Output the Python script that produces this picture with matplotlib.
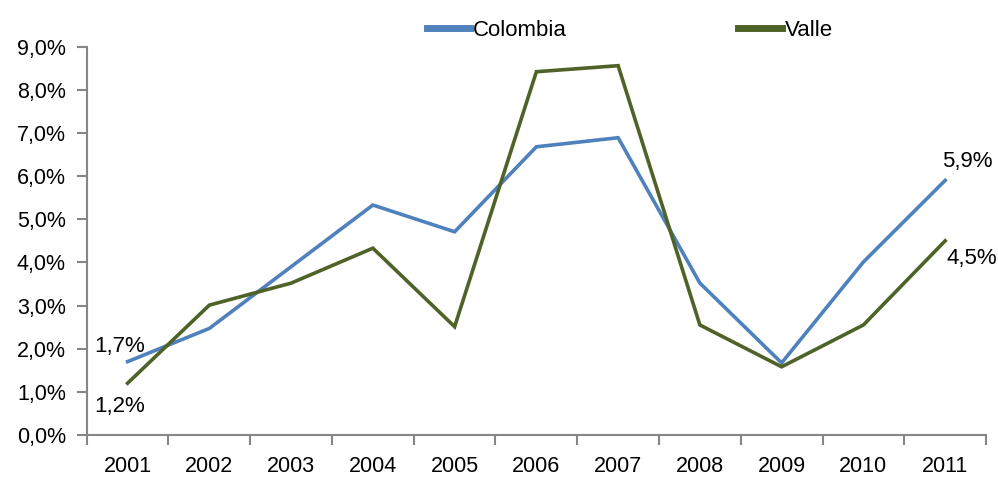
import matplotlib
matplotlib.use("Agg")
import matplotlib.pyplot as plt
from matplotlib.ticker import FuncFormatter, FixedLocator

years = ["2001", "2002", "2003", "2004", "2005", "2006", "2007", "2008", "2009", "2010", "2011"]
colombia = [1.7, 2.47, 3.9, 5.33, 4.71, 6.68, 6.89, 3.52, 1.67, 4.01, 5.9]
valle = [1.2, 3.01, 3.52, 4.33, 2.51, 8.42, 8.56, 2.55, 1.58, 2.55, 4.5]
yticks = [0, 1, 2, 3, 4, 5, 6, 7, 8, 9]

plt.rcParams['font.family'] = ['Liberation Sans', 'DejaVu Sans']

fig = plt.figure(figsize=(9.98, 4.79), dpi=100)
ax = fig.add_axes([0.0869, 0.0919, 0.9011, 0.8106])

x = list(range(len(years)))
blue = "#4F81BD"
green = "#4F6228"
ax.plot(x, colombia, color=blue, lw=2.6, label="Colombia", solid_joinstyle='miter')
ax.plot(x, valle, color=green, lw=2.6, label="Valle", solid_joinstyle='miter')

def pct(v):
    return f"{v:.1f}%".replace(".", ",")

ax.set_xlim(-0.5, len(years) - 0.5)
ax.set_ylim(0, 9)
ax.set_yticks(yticks)
ax.yaxis.set_major_formatter(FuncFormatter(lambda v, p: pct(v)))
ax.set_xticks(x)
ax.set_xticklabels(years)
ax.xaxis.set_minor_locator(FixedLocator([i - 0.5 for i in range(len(years) + 1)]))

gray = "#868686"
for s in ["top", "right"]:
    ax.spines[s].set_visible(False)
for s in ["left", "bottom"]:
    ax.spines[s].set_color(gray)
    ax.spines[s].set_linewidth(1.5)

tfs = 15.5
ax.tick_params(axis='x', which='major', length=0, pad=15, labelsize=tfs)
ax.tick_params(axis='x', which='minor', length=7, width=1.5, color=gray, direction='out')
ax.tick_params(axis='y', which='major', length=7, width=1.5, color=gray, pad=8, labelsize=tfs)

fs = 16
ax.annotate(pct(colombia[0]), (x[0], colombia[0]), xytext=(-24, 3),
            textcoords='offset points', fontsize=fs, va='bottom', ha='left')
ax.annotate(pct(valle[0]), (x[0], valle[0]), xytext=(-24, -9),
            textcoords='offset points', fontsize=fs, va='top', ha='left')
ax.annotate(pct(colombia[-1]), (x[-1], colombia[-1]), xytext=(-2, 6),
            textcoords='offset points', fontsize=fs, va='bottom', ha='left')
ax.annotate(pct(valle[-1]), (x[-1], valle[-1]), xytext=(1, -5),
            textcoords='offset points', fontsize=fs, va='top', ha='left')

leg = ax.legend(loc='center', bbox_to_anchor=(0.631, 0.937), bbox_transform=fig.transFigure,
                ncol=2, frameon=False, fontsize=fs, handlelength=1.95, handletextpad=0.15,
                columnspacing=7.7, borderpad=0, borderaxespad=0)
for h in leg.get_lines():
    h.set_linewidth(5)

fig.savefig("out.png", dpi=100)
